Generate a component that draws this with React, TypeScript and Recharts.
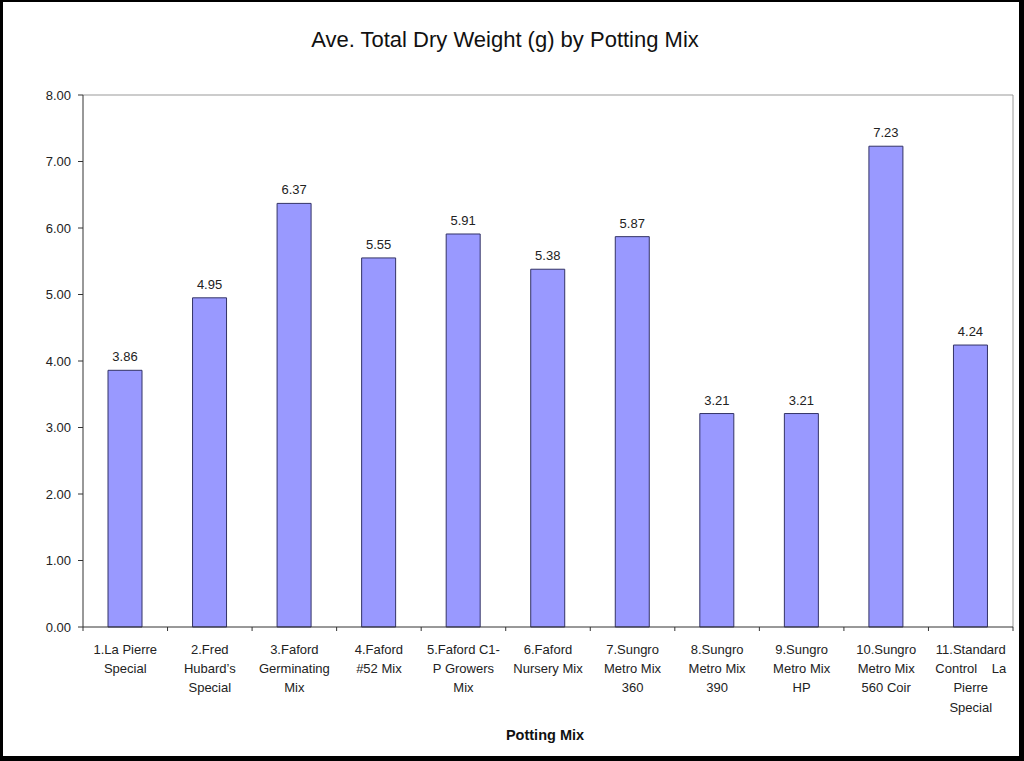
import { BarChart, Bar, XAxis, YAxis, CartesianGrid, LabelList } from 'recharts';

const categories = [
  '1.La Pierre\nSpecial',
  '2.Fred\nHubard’s\nSpecial',
  '3.Faford\nGerminating\nMix',
  '4.Faford\n#52 Mix',
  '5.Faford C1-\nP Growers\nMix',
  '6.Faford\nNursery Mix',
  '7.Sungro\nMetro Mix\n360',
  '8.Sungro\nMetro Mix\n390',
  '9.Sungro\nMetro Mix\nHP',
  '10.Sungro\nMetro Mix\n560 Coir',
  '11.Standard\nControl    La\nPierre\nSpecial',
];
const dryWeight = [3.86, 4.95, 6.37, 5.55, 5.91, 5.38, 5.87, 3.21, 3.21, 7.23, 4.24];
const yTicks = [0, 1, 2, 3, 4, 5, 6, 7, 8];

const W = 1024;
const H = 761;
const M = { top: 95, right: 11, left: 0, bottom: 34 };
const Y_AXIS_W = 83;
const X_AXIS_H = 100;
const FONT = '"Liberation Sans", Arial, sans-serif';
const step = (W - M.left - M.right - Y_AXIS_W) / categories.length;

const data = categories.map((name, i) => ({ name, value: dryWeight[i] }));

// category label with line breaks + tick marks between categories
function CategoryTick(props: any) {
  const { x, y, payload, index } = props;
  const lines = String(payload.value).split('\n');
  return (
    <g>
      <line x1={x - step / 2} x2={x - step / 2} y1={y} y2={y + 4} stroke="#333" />
      {index === categories.length - 1 && (
        <line x1={x + step / 2} x2={x + step / 2} y1={y} y2={y + 4} stroke="#333" />
      )}
      <text textAnchor="middle" fontSize={13} fontFamily={FONT} fill="#222">
        {lines.map((l, i) => (
          <tspan key={i} x={x} y={y + 27 + i * 19.2} style={{ whiteSpace: 'pre' }}>
            {l}
          </tspan>
        ))}
      </text>
    </g>
  );
}

export default function App() {
  return (
    <div style={{ position: 'absolute', left: 0, top: 0, width: W, height: H, background: '#fff' }}>
      <BarChart width={W} height={H} data={data} margin={M}>
        <CartesianGrid
          stroke="#999"
          horizontalCoordinatesGenerator={({ offset }: any) => [offset.top]}
          verticalCoordinatesGenerator={({ offset }: any) => [offset.left + offset.width]}
        />
        <XAxis
          dataKey="name"
          interval={0}
          height={X_AXIS_H}
          tickLine={false}
          tickSize={0}
          tickMargin={0}
          axisLine={{ stroke: '#333' }}
          tick={<CategoryTick />}
        />
        <YAxis
          width={Y_AXIS_W}
          domain={[0, 8]}
          ticks={yTicks}
          interval={0}
          tickFormatter={(v: number) => v.toFixed(2)}
          tickSize={5}
          tickMargin={7}
          axisLine={{ stroke: '#333' }}
          tickLine={{ stroke: '#333' }}
          tick={{ fontSize: 13, fontFamily: FONT, fill: '#222' }}
        />
        <Bar dataKey="value" fill="#9999FF" stroke="#333366" strokeWidth={1} barSize={34} isAnimationActive={false}>
          <LabelList
            dataKey="value"
            position="top"
            offset={9}
            formatter={(v: any) => Number(v).toFixed(2)}
            style={{ fontSize: 13, fontFamily: FONT, fill: '#222' }}
          />
        </Bar>
      </BarChart>
      <svg width={W} height={H} style={{ position: 'absolute', left: 0, top: 0, pointerEvents: 'none' }}>
        <text x={505} y={47} textAnchor="middle" fontSize={22} fontFamily={FONT} fill="#111">
          Ave. Total Dry Weight (g) by Potting Mix
        </text>
        <text x={545} y={740} textAnchor="middle" fontSize={14.5} fontWeight="bold" fontFamily={FONT} fill="#111">
          Potting Mix
        </text>
      </svg>
      <div
        style={{
          position: 'absolute',
          left: 0,
          top: 0,
          width: W,
          height: H,
          boxSizing: 'border-box',
          borderStyle: 'solid',
          borderColor: '#000',
          borderWidth: '2px 5px 5px 3px',
          pointerEvents: 'none',
        }}
      />
    </div>
  );
}
